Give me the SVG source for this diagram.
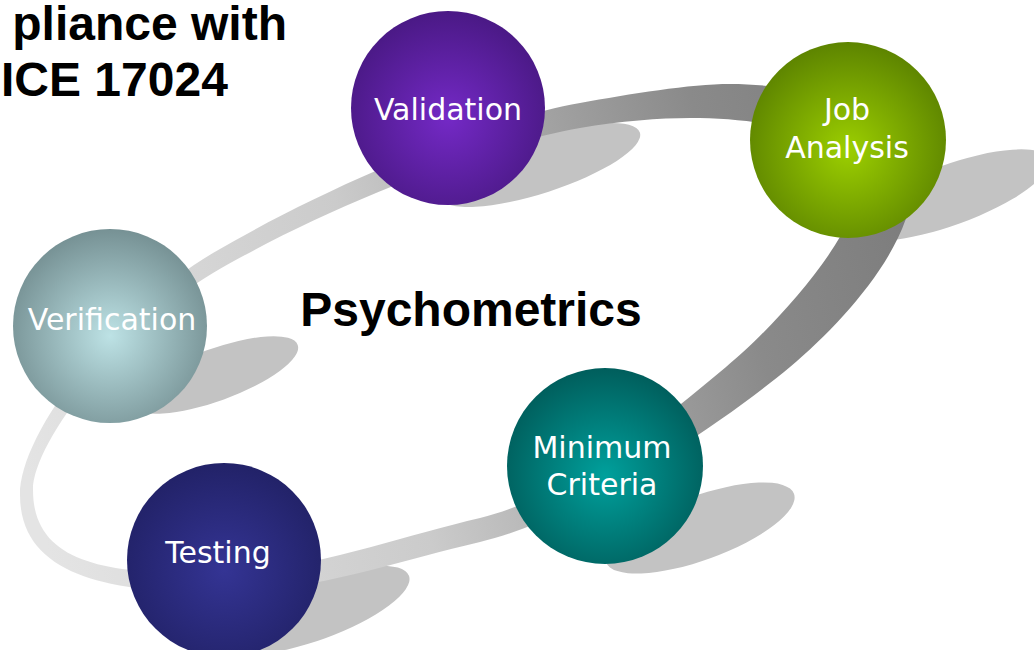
<svg xmlns="http://www.w3.org/2000/svg" width="1034" height="650" viewBox="0 0 1034 650">
  <style>
    .title { font-family: "Liberation Sans", Arial, sans-serif; font-weight: bold; font-size: 48px; fill: #000000; }
    .center { font-family: "Liberation Sans", Arial, sans-serif; font-weight: bold; font-size: 48px; fill: #000000; text-anchor: middle; }
    .label { font-family: "DejaVu Sans", Verdana, sans-serif; font-size: 30px; fill: #ffffff; text-anchor: middle; }
    .shadow { fill: #c3c3c3; }
  </style>
  <defs>
    <linearGradient id="bandGrad" gradientUnits="userSpaceOnUse" x1="20" y1="450" x2="912" y2="200">
      <stop offset="0" stop-color="#e4e4e4"/>
      <stop offset="0.4" stop-color="#cbcbcb"/>
      <stop offset="0.62" stop-color="#a6a6a6"/>
      <stop offset="0.8" stop-color="#8a8a8a"/>
      <stop offset="1" stop-color="#7c7c7c"/>
    </linearGradient>
    <radialGradient id="gValidation" cx="0.5" cy="0.55" r="0.55">
      <stop offset="0" stop-color="#7429c6"/>
      <stop offset="1" stop-color="#4a1985"/>
    </radialGradient>
    <radialGradient id="gJob" cx="0.5" cy="0.55" r="0.55">
      <stop offset="0" stop-color="#9ccf00"/>
      <stop offset="1" stop-color="#5d8400"/>
    </radialGradient>
    <radialGradient id="gVerification" cx="0.5" cy="0.55" r="0.55">
      <stop offset="0" stop-color="#bde2e5"/>
      <stop offset="1" stop-color="#769194"/>
    </radialGradient>
    <radialGradient id="gTesting" cx="0.5" cy="0.55" r="0.55">
      <stop offset="0" stop-color="#343494"/>
      <stop offset="1" stop-color="#222268"/>
    </radialGradient>
    <radialGradient id="gMinimum" cx="0.5" cy="0.55" r="0.55">
      <stop offset="0" stop-color="#00a09c"/>
      <stop offset="1" stop-color="#005e5c"/>
    </radialGradient>
  </defs>

  <rect x="0" y="0" width="1034" height="650" fill="#ffffff"/>

  <g id="title">
    <text class="title" x="287" y="40" text-anchor="end">pliance with</text>
    <text class="title" x="1" y="96">ICE 17024</text>
  </g>

  <g id="shadows">
    <ellipse class="shadow" cx="540" cy="165" rx="105" ry="28" transform="rotate(-18 540 165)"/>
    <ellipse class="shadow" cx="950" cy="195" rx="105" ry="30" transform="rotate(-20 950 195)"/>
    <ellipse class="shadow" cx="215" cy="375" rx="88" ry="26" transform="rotate(-20 215 375)"/>
    <ellipse class="shadow" cx="315" cy="610" rx="100" ry="30" transform="rotate(-20 315 610)"/>
    <ellipse class="shadow" cx="700" cy="528" rx="100" ry="32" transform="rotate(-20 700 528)"/>
  </g>

  <g id="connectors">
    <path fill="url(#bandGrad)" fill-rule="evenodd" d="M 730,84 C 830,84 912,125 912,185 C 912,245 844,322 790,367 C 713,431 577,519 480,542 C 402,560 310,592 230,592 C 120,594 20,580 20,495 C 20,430 118,309 213,253 C 308,197 472,122 580,103 C 630,94 690,84 730,84 Z M 690,118 C 780,118 860,140 860,180 C 860,235 772,329 726,367 C 657,425 567,497 480,518 C 402,536 300,573 220,573 C 110,575 33,565 33,490 C 33,440 127,324 213,273 C 308,217 472,147 580,128 C 620,121 660,118 690,118 Z"/>
  </g>

  <g id="center-label">
    <text class="center" x="471" y="326">Psychometrics</text>
  </g>

  <g id="node-validation">
    <circle cx="448" cy="108" r="97" fill="url(#gValidation)"/>
    <text class="label" x="448" y="120">Validation</text>
  </g>

  <g id="node-job-analysis">
    <circle cx="848" cy="140" r="98" fill="url(#gJob)"/>
    <text class="label" x="847" y="120">Job</text>
    <text class="label" x="847" y="158">Analysis</text>
  </g>

  <g id="node-verification">
    <circle cx="110" cy="326" r="97" fill="url(#gVerification)"/>
    <text class="label" x="112" y="330">Verification</text>
  </g>

  <g id="node-testing">
    <circle cx="224" cy="560" r="97" fill="url(#gTesting)"/>
    <text class="label" x="218" y="563">Testing</text>
  </g>

  <g id="node-minimum-criteria">
    <circle cx="605" cy="466" r="98" fill="url(#gMinimum)"/>
    <text class="label" x="602" y="458">Minimum</text>
    <text class="label" x="602" y="495">Criteria</text>
  </g>
</svg>
